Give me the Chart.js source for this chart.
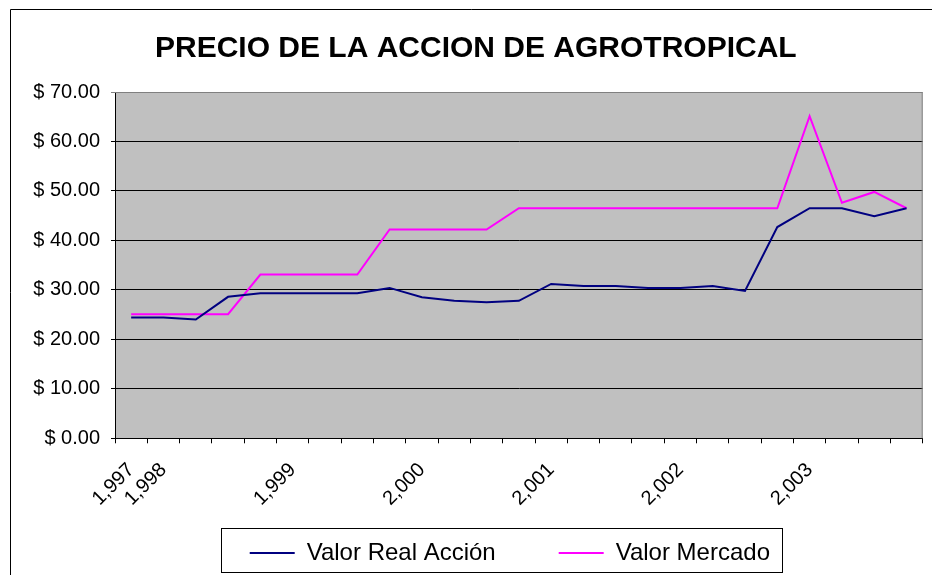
<!DOCTYPE html>
<html>
<head>
<meta charset="utf-8">
<script src="https://cdn.jsdelivr.net/npm/chart.js@4.4.1/dist/chart.umd.min.js"></script>
<style>
  html, body { margin: 0; padding: 0; background: #fff; }
  #c { display: block; }
</style>
</head>
<body>
<canvas id="c" width="932" height="575"></canvas>
<script>
const chartTitle = 'PRECIO DE LA ACCION DE AGROTROPICAL';
const categories = ['1,997','1,998','','','','1,999','','','','2,000','','','','2,001','','','','2,002','','','','2,003','','',''];
const seriesNames = ['Valor Real Acción', 'Valor Mercado'];
const valorReal = [24.4,24.4,24.0,28.6,29.3,29.3,29.3,29.3,30.4,28.5,27.8,27.5,27.8,31.2,30.8,30.8,30.4,30.4,30.8,29.8,42.7,46.5,46.5,44.9,46.5];
const valorMercado = [25.1,25.1,25.1,25.1,33.1,33.1,33.1,33.1,42.2,42.2,42.2,42.2,46.5,46.5,46.5,46.5,46.5,46.5,46.5,46.5,46.5,65.1,47.6,49.8,46.5];
const yMin = 0, yMax = 70, yStep = 10;

const FONT = '"Liberation Sans", Arial, sans-serif';

const decor = {
  id: 'decor',
  afterLayout(chart) {
    const lg = chart.legend;
    if (lg) { lg.left -= 9; lg.right -= 9; }
  },
  beforeDraw(chart) {
    const {ctx, chartArea: a} = chart;
    ctx.save();
    ctx.fillStyle = '#C0C0C0';
    ctx.fillRect(a.left, a.top, a.right - a.left, a.bottom - a.top);
    ctx.restore();
  },
  beforeDatasetsDraw(chart) {
    const {ctx, chartArea: a} = chart;
    ctx.save();
    ctx.strokeStyle = '#808080';
    ctx.lineWidth = 1;
    ctx.beginPath();
    ctx.moveTo(a.left, a.top + 0.5);
    ctx.lineTo(a.right - 0.5, a.top + 0.5);
    ctx.lineTo(a.right - 0.5, a.bottom);
    ctx.stroke();
    ctx.restore();
  },
  afterDraw(chart) {
    const {ctx} = chart;
    ctx.save();
    ctx.strokeStyle = '#000';
    ctx.lineWidth = 1;
    ctx.beginPath();
    ctx.moveTo(10.5, chart.height + 5);
    ctx.lineTo(10.5, 9.5);
    ctx.lineTo(chart.width + 5, 9.5);
    ctx.stroke();
    const hb = chart.legend.legendHitBoxes;
    if (hb && hb.length) {
      const l = hb[0].left - 29;
      const r = hb[hb.length - 1].left + hb[hb.length - 1].width + 12;
      const t = hb[0].top - 13.5;
      const b = hb[0].top + 30.5;
      ctx.strokeRect(Math.round(l) + 0.5, Math.round(t) + 0.5, Math.round(r - l), Math.round(b - t));
    }
    ctx.restore();
  }
};

Chart.defaults.color = '#000';
Chart.defaults.font.family = FONT;

new Chart(document.getElementById('c'), {
  type: 'line',
  data: {
    labels: categories,
    datasets: [
      { label: seriesNames[0], data: valorReal, borderColor: '#000080', backgroundColor: '#000080', borderWidth: 2, pointRadius: 0, tension: 0 },
      { label: seriesNames[1], data: valorMercado, borderColor: '#FF00FF', backgroundColor: '#FF00FF', borderWidth: 2, pointRadius: 0, tension: 0 }
    ]
  },
  options: {
    responsive: false,
    devicePixelRatio: 1,
    animation: false,
    layout: { padding: { left: 29, right: 9.3, top: 0, bottom: 0 } },
    plugins: {
      title: {
        display: true,
        text: chartTitle,
        color: '#000',
        font: { family: FONT, size: 30, weight: 'bold' },
        padding: { top: 31, bottom: 25 }
      },
      legend: {
        position: 'bottom',
        fullSize: false,
        labels: {
          color: '#000',
          font: { family: FONT, size: 24 },
          usePointStyle: true,
          pointStyle: 'line',
          pointStyleWidth: 45,
          padding: 63
        }
      },
      tooltip: { enabled: false }
    },
    scales: {
      x: {
        type: 'category',
        offset: true,
        afterFit(s) {
          s.height = 39.7;
          s.paddingLeft = 0;
          s.paddingRight = 0;
          s._computeLabelArea = () => undefined;
        },
        grid: { display: true, drawOnChartArea: false, drawTicks: true, tickLength: 5, color: '#000', offset: true },
        border: { display: true, color: '#000', width: 1 },
        ticks: { autoSkip: false, maxRotation: 45, minRotation: 45, padding: 15, font: { family: FONT, size: 20 }, color: '#000' }
      },
      y: {
        min: yMin, max: yMax,
        afterFit(s) { s.width = 86; },
        grid: { color: (c) => (c.tick && c.tick.value === yMax ? '#808080' : '#000'), lineWidth: 1, tickLength: 4, drawTicks: true },
        border: { display: true, color: '#000', width: 1 },
        ticks: { stepSize: yStep, padding: 11, font: { family: FONT, size: 20 }, color: '#000',
          callback: (v) => '$ ' + Number(v).toFixed(2) }
      }
    }
  },
  plugins: [decor]
});
</script>
</body>
</html>
